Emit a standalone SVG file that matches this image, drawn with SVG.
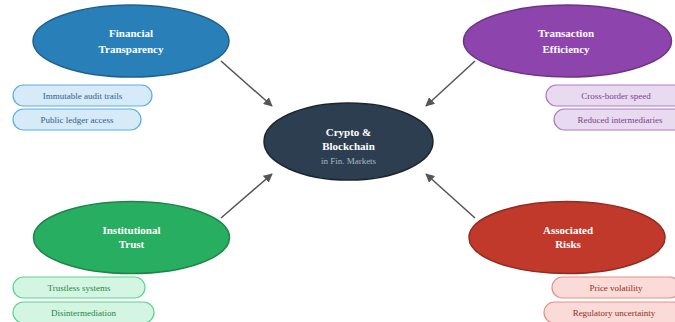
<svg xmlns="http://www.w3.org/2000/svg" width="675" height="322" viewBox="0 0 675 322">
<defs>
<marker id="arr" viewBox="0 0 10 10" refX="9" refY="5" markerWidth="6" markerHeight="6" markerUnits="strokeWidth" orient="auto">
<path d="M0,0 L10,5 L0,10 z" fill="#555"/>
</marker>
<style>
.title{font-family:"Liberation Serif",serif;font-weight:bold;font-size:11px;fill:#ffffff;text-anchor:middle}
.sub{font-family:"Liberation Serif",serif;font-size:9px;fill:#aab7c4;text-anchor:middle}
.pill{font-family:"Liberation Serif",serif;font-size:9px;text-anchor:middle}
.conn{stroke:#555;stroke-width:1.5;fill:none;marker-end:url(#arr)}
.b rect{fill:#d6eaf8;stroke:#5dade2;stroke-width:1.2}
.b text{fill:#2e6189}
.p rect{fill:#e8daef;stroke:#af7ac5;stroke-width:1.2}
.p text{fill:#7d3c98}
.g rect{fill:#d5f5e3;stroke:#58d68d;stroke-width:1.2}
.g text{fill:#1e8449}
.r rect{fill:#fadbd8;stroke:#e6908a;stroke-width:1.2}
.r text{fill:#922b21}
</style>
</defs>
<rect width="675" height="322" fill="#ffffff"/>
<g id="connectors">
<line class="conn" x1="221" y1="61" x2="272" y2="106"/>
<line class="conn" x1="475" y1="61" x2="426" y2="106"/>
<line class="conn" x1="221" y1="218" x2="272" y2="174"/>
<line class="conn" x1="475" y1="218" x2="426" y2="174"/>
</g>
<g id="center">
<ellipse cx="348.5" cy="141.5" rx="84.5" ry="38.5" fill="#2c3e50" stroke="#1a252f" stroke-width="1.5"/>
<text class="title" x="348.5" y="136">Crypto &amp;</text>
<text class="title" x="348.5" y="150">Blockchain</text>
<text class="sub" x="348.5" y="164">in Fin. Markets</text>
</g>
<g id="financial-transparency">
<ellipse cx="131" cy="41" rx="98" ry="36" fill="#2980b9" stroke="#1f618d" stroke-width="1.5"/>
<text class="title" x="131" y="37">Financial</text>
<text class="title" x="131" y="53">Transparency</text>
</g>
<g id="ft-items" class="b">
<rect x="13" y="85" width="139" height="21" rx="10.5"/>
<text class="pill" x="82.5" y="98.5">Immutable audit trails</text>
<rect x="13" y="109" width="128" height="21" rx="10.5"/>
<text class="pill" x="77" y="122.5">Public ledger access</text>
</g>
<g id="transaction-efficiency">
<ellipse cx="567.5" cy="41" rx="104" ry="36" fill="#8e44ad" stroke="#6c3483" stroke-width="1.5"/>
<text class="title" x="566" y="37">Transaction</text>
<text class="title" x="566" y="53">Efficiency</text>
</g>
<g id="te-items" class="p">
<rect x="546" y="85" width="140" height="21" rx="10.5"/>
<text class="pill" x="616" y="98.5">Cross-border speed</text>
<rect x="554" y="109" width="132" height="21" rx="10.5"/>
<text class="pill" x="620" y="122.5">Reduced intermediaries</text>
</g>
<g id="institutional-trust">
<ellipse cx="131.5" cy="237.5" rx="98" ry="36" fill="#27ae60" stroke="#1e8449" stroke-width="1.5"/>
<text class="title" x="131.5" y="234">Institutional</text>
<text class="title" x="131.5" y="248">Trust</text>
</g>
<g id="it-items" class="g">
<rect x="13" y="277" width="132" height="21" rx="10.5"/>
<text class="pill" x="79" y="290.5">Trustless systems</text>
<rect x="13" y="302" width="141" height="21" rx="10.5"/>
<text class="pill" x="83.5" y="315.5">Disintermediation</text>
</g>
<g id="associated-risks">
<ellipse cx="567" cy="237.5" rx="98" ry="36" fill="#c0392b" stroke="#922b21" stroke-width="1.5"/>
<text class="title" x="568" y="234">Associated</text>
<text class="title" x="568" y="248">Risks</text>
</g>
<g id="ar-items" class="r">
<rect x="552" y="277" width="128" height="21" rx="10.5"/>
<text class="pill" x="616" y="290.5">Price volatility</text>
<rect x="544" y="302" width="140" height="21" rx="10.5"/>
<text class="pill" x="614" y="315.5">Regulatory uncertainty</text>
</g>
</svg>
